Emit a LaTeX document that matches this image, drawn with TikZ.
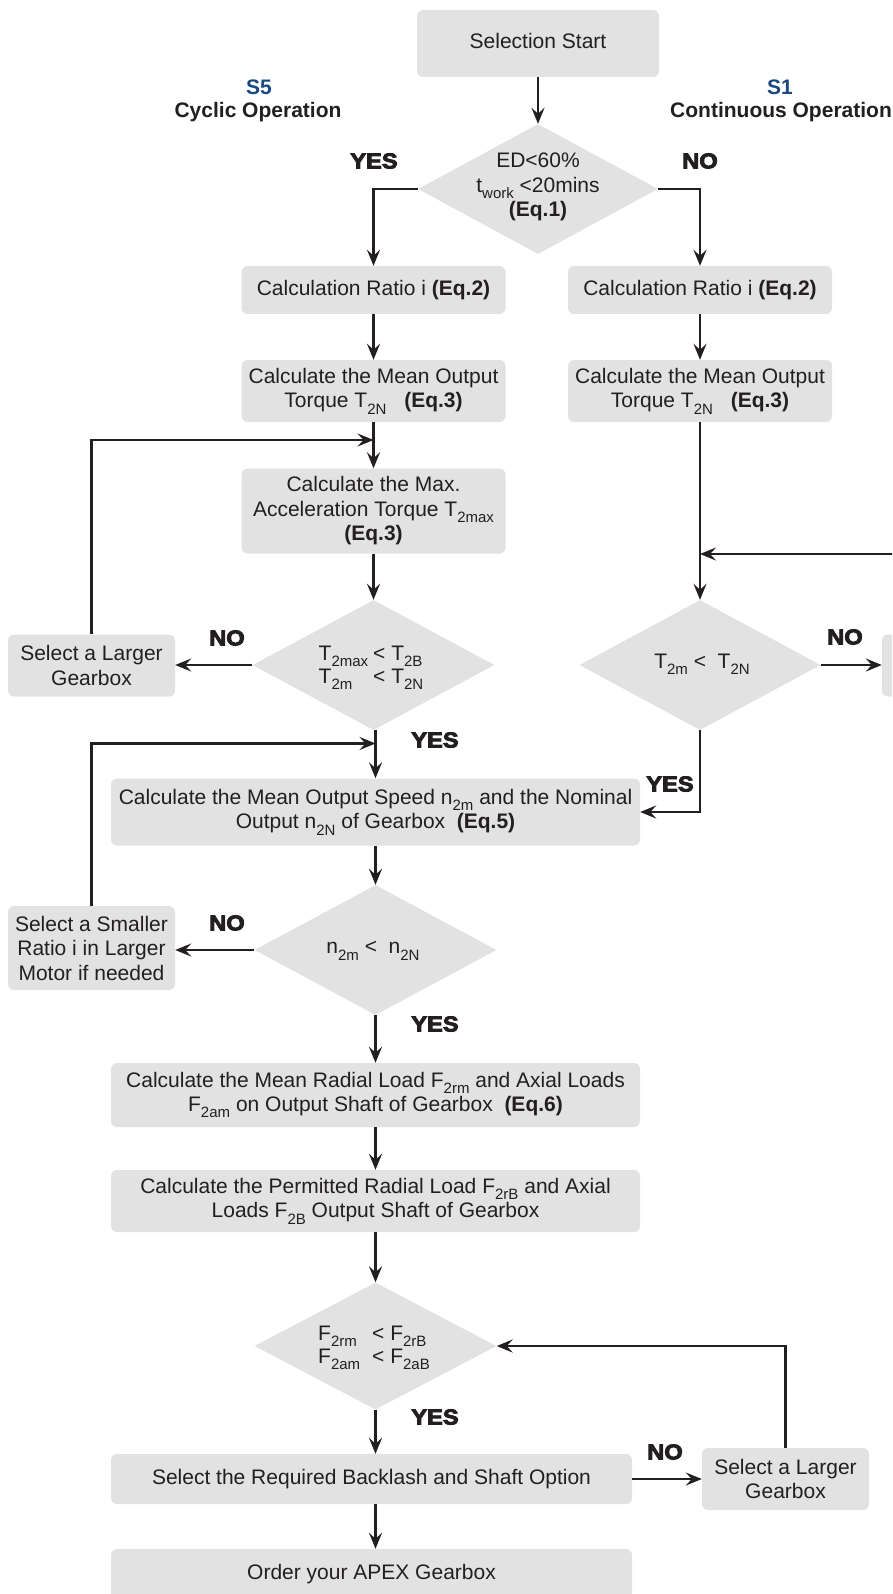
\documentclass[tikz,border=0pt]{standalone}
\usepackage{fontspec}
\usepackage{graphicx}
\setmainfont{Liberation Sans}
\newfontfamily\heavyfont[FakeBold=4]{Liberation Sans Bold}
\usetikzlibrary{shapes.geometric,arrows.meta,calc}
\definecolor{boxgray}{RGB}{225,226,225}
\definecolor{ink}{RGB}{35,31,32}
\definecolor{sblue}{RGB}{26,72,128}
\newcommand\sbs[1]{\raisebox{-0.3em}{\fontsize{15}{15}\selectfont #1}}
\newcommand\heavy[1]{\scalebox{1.1}[1]{#1}}
\begin{document}
\begin{tikzpicture}[x=1pt,y=-1pt,
  every node/.style={font=\fontsize{21}{24.5}\selectfont, text=ink},
  box/.style={fill=boxgray, rounded corners=6pt, inner sep=0pt, align=center},
  dia/.style={diamond, fill=boxgray, inner sep=0pt},
  dtext/.style={align=center, inner sep=0pt},
  ln/.style={draw=ink, line width=2.8pt},
  arr/.style={ln, -{Stealth[length=16pt,width=13pt,inset=6pt]}},
  yn/.style={font=\heavyfont\fontsize{21.5}{24}\selectfont},
  head/.style={font=\bfseries\fontsize{21}{24}\selectfont}]
\useasboundingbox (0,0) rectangle (892,1594);
\clip (0,0) rectangle (892,1594);

% headings
\node[head, text=sblue] (s5) at (259,87) {S5};
\node[head] (cyc) at (258,112) {Cyclic Operation};
\node[head, text=sblue] (s1) at (780,87) {S1};
\node[head] (cont) at (781,112) {Continuous Operation};

% nodes
\node[box, minimum width=242, minimum height=67] (start) at (538,43.5) {};
\node[dtext] (startt) at (538,40.5) {Selection Start};
\node[dia, minimum width=240, minimum height=130] (D1) at (538,189) {};
\node[dtext] (D1t) at (538,187) {ED<60\%\\t\sbs{work} <20mins\\\textbf{(Eq.1)}};

\node[box, minimum width=264, minimum height=48] (L1) at (373.5,290) {Calculation Ratio i \textbf{(Eq.2)}};
\node[box, minimum width=264, minimum height=48] (R1) at (700,290) {Calculation Ratio i \textbf{(Eq.2)}};
\node[box, minimum width=264, minimum height=62] (L2) at (373.5,391) {Calculate the Mean Output\\Torque T\sbs{2N}\hspace{0.85em}\textbf{(Eq.3)}};
\node[box, minimum width=264, minimum height=62] (R2) at (700,391) {Calculate the Mean Output\\Torque T\sbs{2N}\hspace{0.85em}\textbf{(Eq.3)}};
\node[box, minimum width=264, minimum height=85] (L3) at (373.5,511) {Calculate the Max.\\Acceleration Torque T\sbs{2max}\\\textbf{(Eq.3)}};

\node[dia, minimum width=242, minimum height=130] (D2) at (373.5,665) {};
\node[dtext] (D2t) at (371,667) {\def\arraystretch{0.95}\begin{tabular}{@{}l@{\hspace{5pt}}l@{}}T\sbs{2max} & < T\sbs{2B}\\T\sbs{2m} & < T\sbs{2N}\end{tabular}};
\node[box, minimum width=167, minimum height=62] (SL1) at (91.5,665.5) {Select a Larger\\Gearbox};

\node[dia, minimum width=241, minimum height=130] (D3) at (700,665) {};
\node[dtext] (D3t) at (702,664) {T\sbs{2m} <\ \ T\sbs{2N}};
\node[box, minimum width=167, minimum height=62] (SR) at (965.5,665.5) {};

\node[box, minimum width=529, minimum height=67] (L4) at (375.5,812) {Calculate the Mean Output Speed n\sbs{2m} and the Nominal\\Output n\sbs{2N} of Gearbox\ \ \textbf{(Eq.5)}};

\node[dia, minimum width=242, minimum height=130] (D4) at (375.5,950) {};
\node[dtext] (D4t) at (373,951) {n\sbs{2m} <\ \ n\sbs{2N}};
\node[box, minimum width=167, minimum height=84] (SS) at (91.5,948) {Select a Smaller\\Ratio i in Larger\\Motor if needed};

\node[box, minimum width=529, minimum height=64] (L5) at (375.5,1095) {Calculate the Mean Radial Load F\sbs{2rm} and Axial Loads\\F\sbs{2am} on Output Shaft of Gearbox\ \ \textbf{(Eq.6)}};
\node[box, minimum width=529, minimum height=62] (L6) at (375.5,1201) {Calculate the Permitted Radial Load F\sbs{2rB} and Axial\\Loads F\sbs{2B} Output Shaft of Gearbox};

\node[dia, minimum width=242, minimum height=127] (D5) at (375.5,1346) {};
\node[dtext] (D5t) at (374,1347) {\def\arraystretch{0.95}\begin{tabular}{@{}l@{\hspace{12pt}}l@{}}F\sbs{2rm} & < F\sbs{2rB}\\F\sbs{2am} & < F\sbs{2aB}\end{tabular}};

\node[box, minimum width=521, minimum height=50] (L7) at (371.5,1479) {Select the Required Backlash and Shaft Option};
\node[box, minimum width=167, minimum height=62] (SL2) at (785.5,1479) {Select a Larger\\Gearbox};
\node[box, minimum width=521, minimum height=50] (L8) at (371.5,1574) {Order your APEX Gearbox};

% labels
\node[yn] (y1) at (374,161) {\heavy{YES}};
\node[yn] (n1) at (700,161) {\heavy{NO}};
\node[yn] (n2) at (227,638) {\heavy{NO}};
\node[yn] (n3) at (845,637) {\heavy{NO}};
\node[yn] (y2) at (435,740) {\heavy{YES}};
\node[yn] (y3) at (670,784) {\heavy{YES}};
\node[yn] (n4) at (227,923) {\heavy{NO}};
\node[yn] (y4) at (435,1024) {\heavy{YES}};
\node[yn] (y5) at (435,1417) {\heavy{YES}};
\node[yn] (n5) at (665,1452) {\heavy{NO}};

% junction coordinates
\coordinate (fb1) at (373.5,440);
\coordinate (fb2) at (375.5,743.5);
\coordinate (fb3) at (700,554);

% connectors
\draw[arr] (start) -- (D1);
\draw[arr] (D1.west) -| (L1.north);
\draw[arr] (D1.east) -| (R1.north);
\draw[arr] (L1) -- (L2);
\draw[arr] (R1) -- (R2);
\draw[arr] (L2) -- (L3);
\draw[arr] (SL1.north) |- (fb1);
\draw[arr] (L3) -- (D2);
\draw[arr] (D2.west) -- (D2.west -| SL1.east);
\draw[arr] (D2.south -| L4.north) -- (L4.north);
\draw[arr] (SS.north) |- (fb2);
\draw[arr] (R2.south) -- (D3.north);
\draw[arr] (SR.north) |- (fb3);
\draw[arr] (D3.east) -- (D3.east -| SR.west);
\draw[arr] (D3.south) |- (L4.east);
\draw[arr] (L4) -- (D4);
\draw[arr] (D4.west) -- (D4.west -| SS.east);
\draw[arr] (D4.south) -- (L5.north);
\draw[arr] (L5) -- (L6);
\draw[arr] (L6) -- (D5);
\draw[arr] (D5.south) -- (D5.south |- L7.north);
\draw[arr] (L7) -- (SL2);
\draw[arr] (SL2.north) |- (D5.east);
\draw[arr] (L7.south -| D5.south) -- (L8.north -| D5.south);
\end{tikzpicture}
\end{document}
